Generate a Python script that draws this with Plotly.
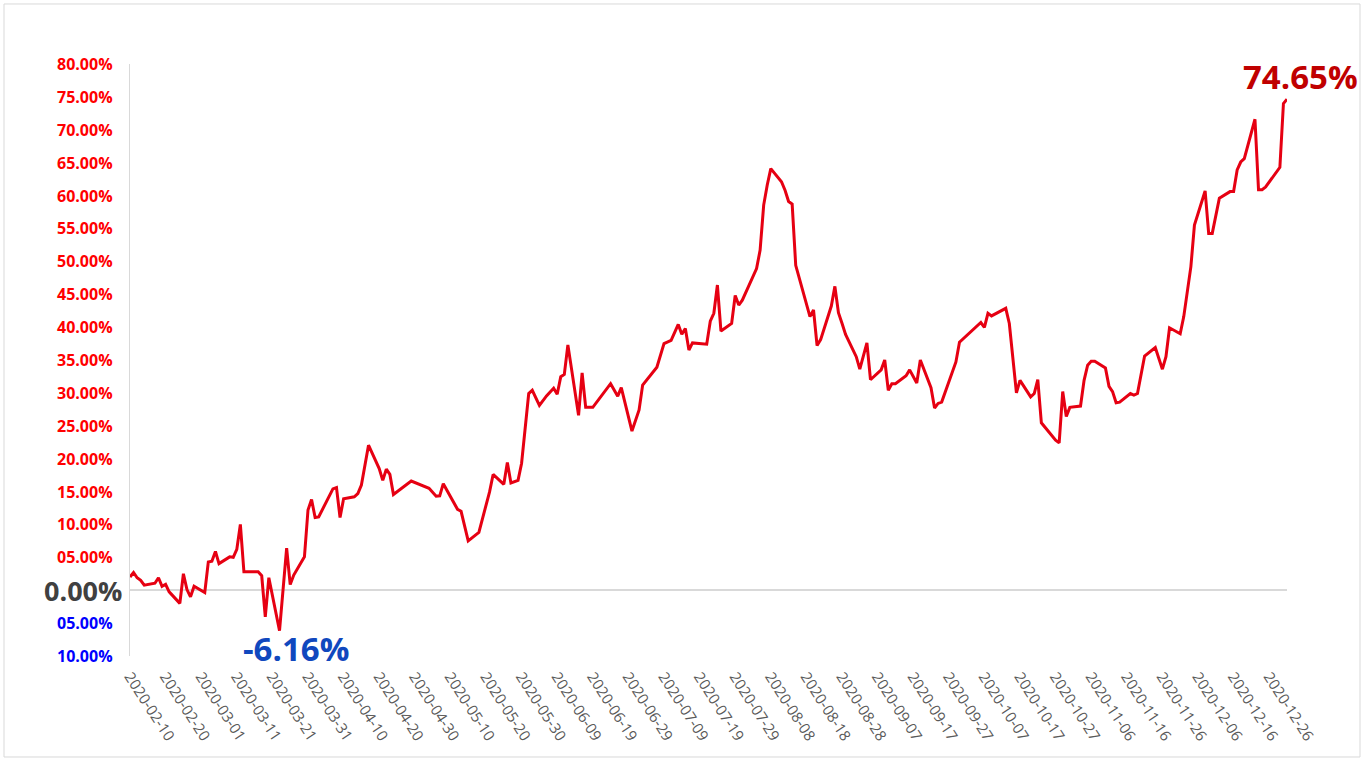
import plotly.graph_objects as go

dates = [
 "2020-02-10","2020-02-11","2020-02-12","2020-02-13","2020-02-14","2020-02-17","2020-02-18","2020-02-19","2020-02-20","2020-02-21",
 "2020-02-24","2020-02-25","2020-02-26","2020-02-27","2020-02-28","2020-03-02","2020-03-03","2020-03-04","2020-03-05","2020-03-06",
 "2020-03-09","2020-03-10","2020-03-11","2020-03-12","2020-03-13","2020-03-17","2020-03-18","2020-03-19","2020-03-20","2020-03-23",
 "2020-03-25","2020-03-26","2020-03-27","2020-03-30","2020-03-31","2020-04-01","2020-04-02","2020-04-03","2020-04-07","2020-04-08",
 "2020-04-09","2020-04-10","2020-04-13","2020-04-14","2020-04-15","2020-04-17","2020-04-20","2020-04-21","2020-04-22","2020-04-23",
 "2020-04-24","2020-04-29","2020-05-04","2020-05-06","2020-05-07","2020-05-08","2020-05-12","2020-05-13","2020-05-15","2020-05-18",
 "2020-05-21","2020-05-22","2020-05-25","2020-05-26","2020-05-27","2020-05-29","2020-05-30","2020-06-01","2020-06-02","2020-06-04",
 "2020-06-06","2020-06-08","2020-06-09","2020-06-10","2020-06-11","2020-06-12","2020-06-15","2020-06-16","2020-06-17","2020-06-19",
 "2020-06-24","2020-06-26","2020-06-27","2020-06-30","2020-07-02","2020-07-03","2020-07-07","2020-07-09","2020-07-11","2020-07-13",
 "2020-07-14","2020-07-15","2020-07-16","2020-07-17","2020-07-21","2020-07-22","2020-07-23","2020-07-24","2020-07-25","2020-07-28",
 "2020-07-29","2020-07-30","2020-07-31","2020-08-04","2020-08-05","2020-08-06","2020-08-07","2020-08-08","2020-08-11","2020-08-12",
 "2020-08-13","2020-08-14","2020-08-15","2020-08-19","2020-08-20","2020-08-21","2020-08-22","2020-08-25","2020-08-26","2020-08-27",
 "2020-08-28","2020-08-29","2020-09-01","2020-09-02","2020-09-04","2020-09-05","2020-09-08","2020-09-09","2020-09-10","2020-09-11",
 "2020-09-12","2020-09-15","2020-09-16","2020-09-18","2020-09-19","2020-09-22","2020-09-23","2020-09-24","2020-09-25","2020-09-29",
 "2020-09-30","2020-10-06","2020-10-07","2020-10-08","2020-10-09","2020-10-13","2020-10-14","2020-10-15","2020-10-16","2020-10-17",
 "2020-10-20","2020-10-21","2020-10-22","2020-10-23","2020-10-24","2020-10-27","2020-10-28","2020-10-29","2020-10-30","2020-10-31",
 "2020-11-03","2020-11-04","2020-11-05","2020-11-06","2020-11-07","2020-11-10","2020-11-11","2020-11-12","2020-11-13","2020-11-14",
 "2020-11-17","2020-11-18","2020-11-19","2020-11-21","2020-11-24","2020-11-26","2020-11-27","2020-11-28","2020-12-01","2020-12-02",
 "2020-12-04","2020-12-05","2020-12-08","2020-12-09","2020-12-10","2020-12-12","2020-12-15","2020-12-16","2020-12-17","2020-12-18",
 "2020-12-19","2020-12-22","2020-12-23","2020-12-24","2020-12-25","2020-12-29","2020-12-30","2020-12-31",
]

returns_pct = [
 2.0, 2.7, 1.9, 1.5, 0.76, 1.06, 1.9, 0.6, 0.9, -0.25,
 -2.0, 2.5, 0.1, -1.0, 0.6, -0.35, 4.3, 4.4, 5.9, 4.05,
 5.07, 5.0, 6.2, 10.0, 2.8, 2.8, 2.2, -4.05, 1.9, -6.16,
 6.4, 0.86, 2.3, 5.07, 12.2, 13.8, 11.05, 11.15, 15.4, 15.6,
 11.05, 13.9, 14.2, 14.7, 16.0, 22.05, 18.5, 16.7, 18.4, 17.6,
 14.55, 16.6, 15.5, 14.3, 14.35, 16.2, 12.3, 12.0, 7.5, 8.8,
 14.95, 17.6, 16.1, 19.4, 16.3, 16.7, 19.3, 29.9, 30.4, 28.1,
 29.55, 30.7, 29.8, 32.45, 32.8, 37.3, 26.6, 33.05, 27.8, 27.8,
 31.4, 29.5, 30.8, 24.2, 27.4, 31.2, 33.9, 37.5, 38.0, 40.4,
 38.9, 39.8, 36.5, 37.6, 37.4, 40.9, 42.1, 46.4, 39.4, 40.55,
 44.8, 43.35, 44.1, 48.9, 51.7, 58.55, 61.6, 64.1, 62.1, 60.8,
 59.1, 58.7, 49.4, 41.6, 42.6, 37.2, 38.1, 43.2, 46.2, 42.2,
 40.6, 38.9, 35.5, 33.6, 37.6, 32.0, 33.5, 35.0, 30.4, 31.4,
 31.4, 32.6, 33.5, 31.5, 35.0, 30.8, 27.7, 28.4, 28.6, 34.7,
 37.7, 40.7, 39.95, 42.1, 41.7, 42.85, 40.55, 35.5, 30.0, 31.9,
 29.4, 29.9, 32.0, 25.45, 24.75, 22.8, 22.4, 30.2, 26.4, 27.8,
 28.0, 31.9, 34.2, 34.8, 34.8, 33.8, 31.0, 30.2, 28.5, 28.6,
 29.9, 29.65, 29.9, 35.6, 36.9, 33.6, 35.5, 39.9, 39.0, 41.6,
 49.2, 55.5, 60.7, 54.25, 54.25, 59.6, 60.6, 60.6, 63.9, 65.1,
 65.6, 71.6, 60.9, 60.9, 61.3, 64.3, 74.0, 74.65,
]

y_tick_vals = [80, 75, 70, 65, 60, 55, 50, 45, 40, 35, 30, 25, 20, 15, 10, 5, 0, -5, -10]
y_tick_text = ["80.00%", "75.00%", "70.00%", "65.00%", "60.00%", "55.00%", "50.00%", "45.00%",
               "40.00%", "35.00%", "30.00%", "25.00%", "20.00%", "15.00%", "10.00%", "05.00%",
               "0.00%", "05.00%", "10.00%"]

max_label = "74.65%"
min_label = "-6.16%"

fig = go.Figure()
fig.add_trace(go.Scatter(
    x=dates, y=returns_pct, mode="lines",
    line=dict(color="#e60012", width=3),
    hoverinfo="skip", showlegend=False,
))

annotations = []
for v, t in zip(y_tick_vals, y_tick_text):
    if v > 0:
        col, size, xs = "#ff0000", 16, -15
    elif v == 0:
        col, size, xs = "#404040", 27, -6
    else:
        col, size, xs = "#0000ff", 16, -15
    annotations.append(dict(
        x=0, xref="paper", y=v, yref="y", text="<b>%s</b>" % t, showarrow=False,
        xanchor="right", yanchor="middle", xshift=xs,
        font=dict(family="Open Sans", size=size, color=col),
    ))

annotations.append(dict(
    x=dates[-1], y=returns_pct[-1], xref="x", yref="y", text="<b>%s</b>" % max_label,
    showarrow=False, xanchor="center", yanchor="middle", xshift=13, yshift=23,
    font=dict(family="Open Sans", size=33, color="#c00000"),
))
annotations.append(dict(
    x=dates[returns_pct.index(min(returns_pct))], y=min(returns_pct), xref="x", yref="y",
    text="<b>%s</b>" % min_label,
    showarrow=False, xanchor="center", yanchor="middle", xshift=16, yshift=-18,
    font=dict(family="Open Sans", size=33, color="#1048be"),
))

fig.update_layout(
    width=1365, height=760,
    margin=dict(l=130, r=78, t=64, b=104),
    paper_bgcolor="white", plot_bgcolor="white",
    annotations=annotations,
    shapes=[dict(type="rect", xref="paper", yref="paper",
                 x0=-0.1089, x1=1.0631, y0=-0.1706, y1=1.1014,
                 line=dict(color="#d9d9d9", width=1), fillcolor="rgba(0,0,0,0)", layer="below")],
    xaxis=dict(
        type="date", range=["2020-02-10", "2020-12-31"],
        tick0="2020-02-10", dtick=864000000, tickformat="%Y-%m-%d",
        tickangle=57, showgrid=False, zeroline=False, showline=False, ticks="",
        ticklabelstandoff=8,
        tickfont=dict(family="Open Sans", size=15, color="#595959"),
    ),
    yaxis=dict(
        range=[-10, 80], tickvals=y_tick_vals, showticklabels=False,
        showgrid=False, zeroline=True, zerolinecolor="#d9d9d9", zerolinewidth=1.5,
        showline=True, linecolor="#d9d9d9", linewidth=1, ticks="",
    ),
)

fig.write_html("out.html")
